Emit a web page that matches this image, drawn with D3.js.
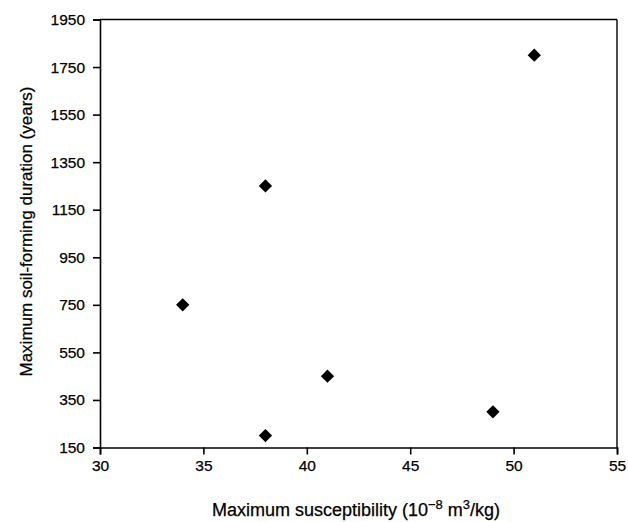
<!DOCTYPE html>
<html><head><meta charset="utf-8">
<script src="https://cdn.jsdelivr.net/npm/d3@7"></script>
<style>body{margin:0;background:#fff}text{font-family:"Liberation Sans",Arial,sans-serif;fill:#000}</style>
</head><body><svg id="c" width="628" height="522"></svg>
<script>
const susceptibility = [34, 38, 38, 41, 49, 51];
const duration = [750, 1250, 200, 450, 300, 1800];
const xTicks = [30, 35, 40, 45, 50, 55];
const yTicks = [150, 350, 550, 750, 950, 1150, 1350, 1550, 1750, 1950];

const svg = d3.select("#c");
const m = {l:100, r:617, t:19.5, b:447.5};
const x = d3.scaleLinear().domain([30,55]).range([m.l,m.r]);
const y = d3.scaleLinear().domain([150,1950]).range([m.b,m.t]);

const fs = "15.5px";
const xa = svg.append("g").attr("transform",`translate(0,${m.b})`)
  .call(d3.axisBottom(x).tickValues(xTicks).tickSize(7).tickPadding(5).tickFormat(d3.format("d")));
const ya = svg.append("g").attr("transform",`translate(${m.l},0)`)
  .call(d3.axisLeft(y).tickValues(yTicks).tickSize(7).tickPadding(8).tickFormat(d3.format("d")));
[xa,ya].forEach(a=>{a.selectAll("text").style("font-size",fs).attr("fill","#000")
    .attr("stroke","#000").attr("stroke-width",0.25);
  a.selectAll("line,path").attr("stroke","#000").attr("stroke-width",1.6);});
// top and right frame
svg.append("line").attr("x1",m.l).attr("x2",m.r).attr("y1",m.t).attr("y2",m.t).attr("stroke","#000").attr("stroke-width",1.4);
svg.append("line").attr("x1",m.r).attr("x2",m.r).attr("y1",m.t).attr("y2",m.b).attr("stroke","#000").attr("stroke-width",1.4);

const sym = d3.symbol().type(d3.symbolSquare).size(88);
svg.append("g").selectAll("path").data(susceptibility.map((v,i)=>[v,duration[i]])).join("path")
  .attr("d",sym).attr("fill","#000")
  .attr("transform",d=>`translate(${x(d[0])},${y(d[1])}) rotate(45)`);

svg.append("text").attr("transform",`translate(32,${(m.t+m.b)/2 - 2}) rotate(-90)`)
  .attr("text-anchor","middle").style("font-size","17px").attr("stroke","#000").attr("stroke-width",0.25)
  .text("Maximum soil-forming duration (years)");
const xl = svg.append("text").attr("x",356).attr("y",516).attr("text-anchor","middle")
  .style("font-size","18px").attr("stroke","#000").attr("stroke-width",0.25);
xl.append("tspan").text("Maximum susceptibility (10");
xl.append("tspan").attr("dy",-7).style("font-size","13px").text("\u22128");
xl.append("tspan").attr("dy",7).text(" m");
xl.append("tspan").attr("dy",-7).style("font-size","13px").text("3");
xl.append("tspan").attr("dy",7).text("/kg)");
</script></body></html>
